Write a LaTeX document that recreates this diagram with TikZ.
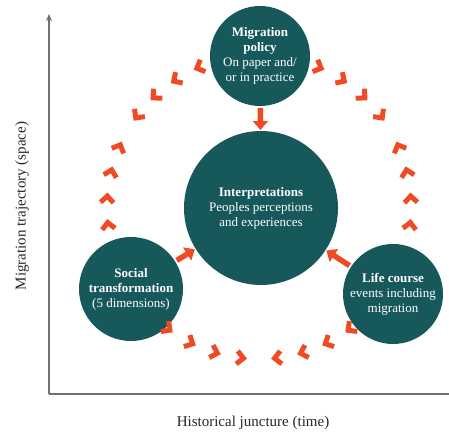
\documentclass[tikz,border=0pt]{standalone}
\usepackage{fontspec}
\setmainfont{Liberation Serif}
\usetikzlibrary{arrows.meta}
\definecolor{teal1}{HTML}{17595B}
\definecolor{orng}{HTML}{EF4A23}
\definecolor{axisgray}{HTML}{707070}
\tikzset{
  bubble/.style={circle, fill=teal1, text=white, align=center, inner sep=0pt, outer sep=0pt,
    font=\fontsize{13pt}{15pt}\selectfont},
  chev/.style={draw=orng, line width=5pt, line join=miter, line cap=butt},
  flowarrow/.style={draw=orng, line width=5.5pt, -{Triangle[length=9pt,width=15pt]},
    shorten <=2pt, shorten >=1pt},
  axisline/.style={draw=axisgray, line width=1.6pt},
  axislabel/.style={font=\fontsize{15pt}{17pt}\selectfont, text=black!85}
}
\begin{document}
\begin{tikzpicture}[x=1pt,y=1pt]
\useasboundingbox (0,0) rectangle (449,436);
% axes
\coordinate (origin) at (49,42);
\coordinate (ytop) at (49,422);
\coordinate (xend) at (449,42);
\draw[axisline, -{Stealth[length=7pt,width=6pt]}] (origin) -- (ytop);
\draw[axisline] (origin) -- (xend);
\node[axislabel, rotate=90] (ylab) at (22,230) {Migration trajectory (space)};
\node[axislabel] (xlab) at (253,13) {Historical juncture (time)};
% circles
\node[bubble, minimum size=100pt] (policy) at (260,380)
  {\textbf{Migration}\\\textbf{policy}\\On paper and/\\or in practice};
\node[bubble, minimum size=154pt] (interp) at (261,228)
  {\textbf{Interpretations}\\Peoples perceptions\\and experiences};
\node[bubble, minimum size=104pt] (social) at (131,147)
  {\textbf{Social}\\\textbf{transformation}\\(5 dimensions)};
\node[bubble, minimum size=100pt] (life) at (393,142)
  {\textbf{Life course}\\events including\\migration};
% ring of chevrons
\coordinate (rc) at (259,229);
\foreach \m in {30,150,270}{
  \foreach \k in {7,17,27,37}{
    \pgfmathsetmacro{\a}{\m-\k}
    \draw[chev, shift={(rc)}, rotate=\a] (145.5,-3.5) -- (152,3) -- (158.5,-3.5);
    \pgfmathsetmacro{\b}{\m+\k}
    \draw[chev, shift={(rc)}, rotate=\b] (145.5,3.5) -- (152,-3) -- (158.5,3.5);
  }
}
% arrows into centre
\draw[flowarrow] (policy) -- (interp);
\draw[flowarrow] (social) -- (interp);
\draw[flowarrow] (life) -- (interp);
\end{tikzpicture}
\end{document}
